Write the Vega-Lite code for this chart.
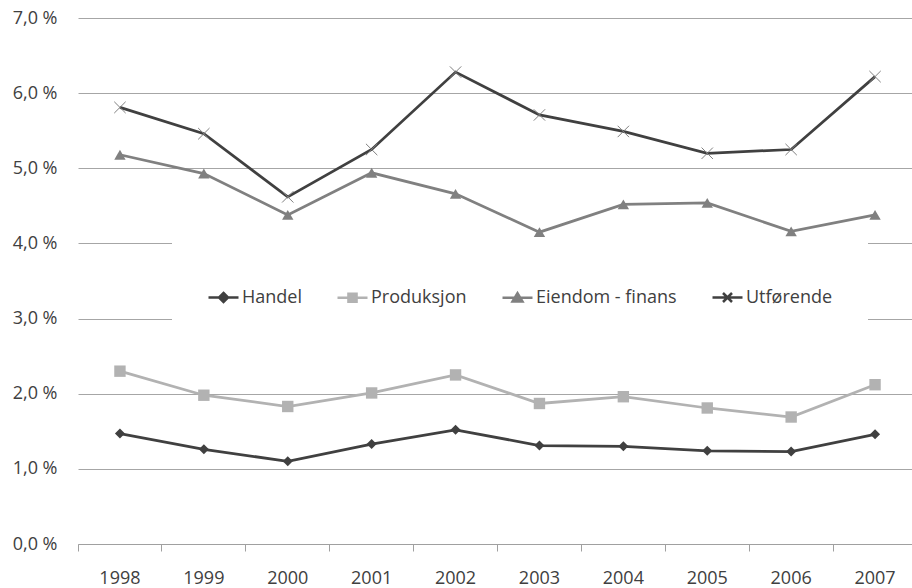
{
  "$schema": "https://vega.github.io/schema/vega-lite/v6.json",
  "width": 834,
  "height": 526,
  "autosize": {"type": "none"},
  "padding": {"left": 78, "top": 18, "right": 0, "bottom": 44},
  "background": "white",
  "config": {"view": {"stroke": null}, "font": "Open Sans"},
  "data": {
    "values": [
      {"year": "1998", "series": "Handel", "value": 1.47},
      {"year": "1999", "series": "Handel", "value": 1.26},
      {"year": "2000", "series": "Handel", "value": 1.10},
      {"year": "2001", "series": "Handel", "value": 1.33},
      {"year": "2002", "series": "Handel", "value": 1.52},
      {"year": "2003", "series": "Handel", "value": 1.31},
      {"year": "2004", "series": "Handel", "value": 1.30},
      {"year": "2005", "series": "Handel", "value": 1.24},
      {"year": "2006", "series": "Handel", "value": 1.23},
      {"year": "2007", "series": "Handel", "value": 1.46},
      {"year": "1998", "series": "Produksjon", "value": 2.30},
      {"year": "1999", "series": "Produksjon", "value": 1.98},
      {"year": "2000", "series": "Produksjon", "value": 1.83},
      {"year": "2001", "series": "Produksjon", "value": 2.01},
      {"year": "2002", "series": "Produksjon", "value": 2.25},
      {"year": "2003", "series": "Produksjon", "value": 1.87},
      {"year": "2004", "series": "Produksjon", "value": 1.96},
      {"year": "2005", "series": "Produksjon", "value": 1.81},
      {"year": "2006", "series": "Produksjon", "value": 1.69},
      {"year": "2007", "series": "Produksjon", "value": 2.12},
      {"year": "1998", "series": "Eiendom - finans", "value": 5.18},
      {"year": "1999", "series": "Eiendom - finans", "value": 4.93},
      {"year": "2000", "series": "Eiendom - finans", "value": 4.38},
      {"year": "2001", "series": "Eiendom - finans", "value": 4.94},
      {"year": "2002", "series": "Eiendom - finans", "value": 4.66},
      {"year": "2003", "series": "Eiendom - finans", "value": 4.15},
      {"year": "2004", "series": "Eiendom - finans", "value": 4.52},
      {"year": "2005", "series": "Eiendom - finans", "value": 4.54},
      {"year": "2006", "series": "Eiendom - finans", "value": 4.16},
      {"year": "2007", "series": "Eiendom - finans", "value": 4.38},
      {"year": "1998", "series": "Utførende", "value": 5.81},
      {"year": "1999", "series": "Utførende", "value": 5.46},
      {"year": "2000", "series": "Utførende", "value": 4.62},
      {"year": "2001", "series": "Utførende", "value": 5.25},
      {"year": "2002", "series": "Utførende", "value": 6.28},
      {"year": "2003", "series": "Utførende", "value": 5.71},
      {"year": "2004", "series": "Utførende", "value": 5.49},
      {"year": "2005", "series": "Utførende", "value": 5.20},
      {"year": "2006", "series": "Utførende", "value": 5.25},
      {"year": "2007", "series": "Utførende", "value": 6.22}
    ]
  },
  "encoding": {
    "x": {
      "field": "year",
      "type": "ordinal",
      "scale": {"type": "band", "paddingInner": 0, "paddingOuter": 0, "range": [0, 839]},
      "axis": {
        "title": null,
        "labelAngle": 0,
        "bandPosition": 0,
        "grid": false,
        "domainColor": "#a0a0a0",
        "tickColor": "#a0a0a0",
        "tickSize": 7,
        "labelPadding": 18,
        "labelFontSize": 18,
        "labelFont": "Open Sans",
        "labelColor": "#404040"
      }
    },
    "y": {
      "field": "value",
      "type": "quantitative",
      "scale": {"domain": [0, 7]},
      "axis": {
        "title": null,
        "values": [0, 1, 2, 3, 4, 5, 6, 7],
        "labelExpr": "replace(format(datum.value, '.1f'), '.', ',') + ' %'",
        "domain": false,
        "ticks": false,
        "tickSize": 0,
        "labelPadding": 21,
        "gridColor": "#a6a6a6",
        "gridWidth": 1,
        "labelFontSize": 18,
        "labelFont": "Open Sans",
        "labelColor": "#404040"
      }
    }
  },
  "layer": [
    {
      "transform": [{"filter": "datum.series === 'Handel'"}],
      "mark": {"type": "line", "strokeWidth": 2.75, "color": "#404040",
               "point": {"shape": "diamond", "filled": true, "color": "#404040", "size": 100, "opacity": 1}}
    },
    {
      "transform": [{"filter": "datum.series === 'Produksjon'"}],
      "mark": {"type": "line", "strokeWidth": 2.75, "color": "#b2b2b2",
               "point": {"shape": "square", "filled": true, "color": "#b2b2b2", "size": 130, "opacity": 1}}
    },
    {
      "transform": [{"filter": "datum.series === 'Eiendom - finans'"}],
      "mark": {"type": "line", "strokeWidth": 2.75, "color": "#808080",
               "point": {"shape": "triangle-up", "filled": true, "color": "#808080", "size": 130, "opacity": 1}}
    },
    {
      "transform": [{"filter": "datum.series === 'Utførende'"}],
      "mark": {"type": "line", "strokeWidth": 2.75, "color": "#404040",
               "point": {"shape": "M-1,-1L1,1M-1,1L1,-1", "filled": false, "color": "#7f7f7f", "strokeWidth": 1, "size": 130, "opacity": 1}}
    },
    {
      "mark": {"type": "point", "filled": true, "size": 900, "opacity": 0},
      "encoding": {
        "color": {
          "field": "series",
          "type": "nominal",
          "scale": {
            "domain": ["Handel", "Produksjon", "Eiendom - finans", "Utførende"],
            "range": ["#404040", "#b2b2b2", "#808080", "#404040"]
          },
          "legend": {
            "orient": "none",
            "direction": "horizontal",
            "legendX": 94,
            "legendY": 220,
            "title": " ",
            "titleFontSize": 8,
            "titlePadding": 0,
            "padding": 35,
            "fillColor": "white",
            "symbolSize": 900,
            "symbolStrokeWidth": 2.5,
            "symbolOpacity": 1,
            "labelOffset": 2,
            "columnPadding": 30,
            "labelFontSize": 18,
            "labelFont": "Open Sans",
            "labelColor": "#404040",
            "encode": {"symbols": {"update": {"stroke": {"scale": "color", "field": "value"}, "strokeWidth": {"value": 2.5}, "opacity": {"value": 1}}}}
          }
        },
        "shape": {
          "field": "series",
          "type": "nominal",
          "scale": {
            "domain": ["Handel", "Produksjon", "Eiendom - finans", "Utførende"],
            "range": [
              "M-1,0H1M0,-0.3L0.3,0L0,0.3L-0.3,0Z",
              "M-1,0H1M-0.27,-0.27H0.27V0.27H-0.27Z",
              "M-1,0H1M-0.33,0.25L0,-0.3L0.33,0.25Z",
              "M-1,0H1M-0.3,-0.3L0.3,0.3M-0.3,0.3L0.3,-0.3"
            ]
          },
          "legend": {
            "orient": "none",
            "direction": "horizontal",
            "legendX": 94,
            "legendY": 220,
            "title": " ",
            "titleFontSize": 8,
            "titlePadding": 0,
            "padding": 35,
            "fillColor": "white",
            "symbolSize": 900,
            "symbolStrokeWidth": 2.5,
            "symbolOpacity": 1,
            "labelOffset": 2,
            "columnPadding": 30,
            "labelFontSize": 18,
            "labelFont": "Open Sans",
            "labelColor": "#404040",
            "encode": {"symbols": {"update": {"stroke": {"scale": "color", "field": "value"}, "strokeWidth": {"value": 2.5}, "opacity": {"value": 1}}}}
          }
        }
      }
    }
  ]
}
